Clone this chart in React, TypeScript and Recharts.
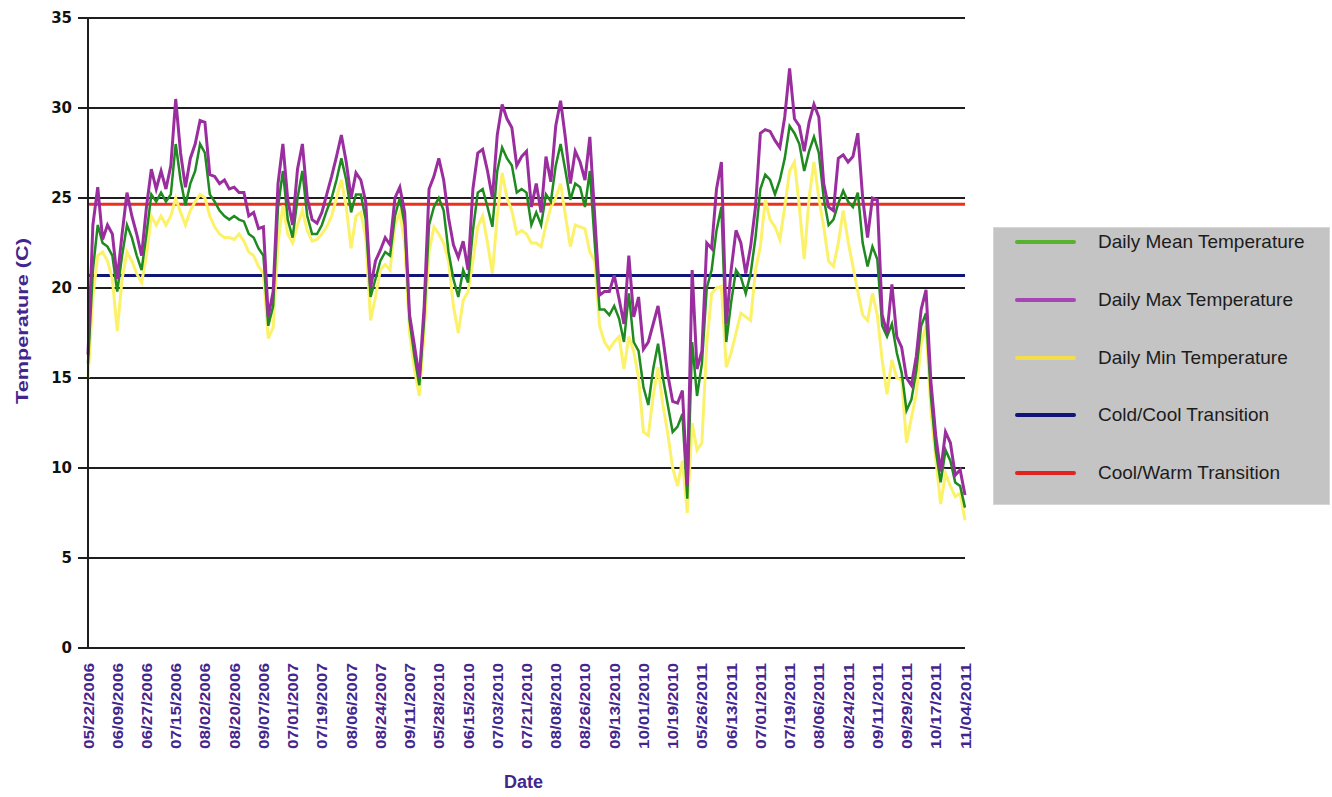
import { CartesianGrid, Line, LineChart, XAxis, YAxis } from "recharts";

// one sample every third day, six samples between date labels
const STEP = 6;

const DATE_TICKS = [
  "05/22/2006", "06/09/2006", "06/27/2006", "07/15/2006", "08/02/2006", "08/20/2006", "09/07/2006",
  "07/01/2007", "07/19/2007", "08/06/2007", "08/24/2007", "09/11/2007",
  "05/28/2010", "06/15/2010", "07/03/2010", "07/21/2010", "08/08/2010", "08/26/2010", "09/13/2010", "10/01/2010", "10/19/2010",
  "05/26/2011", "06/13/2011", "07/01/2011", "07/19/2011", "08/06/2011", "08/24/2011", "09/11/2011", "09/29/2011", "10/17/2011", "11/04/2011"
];

const DAILY_MAX = [
  16.3, 23.5, 25.6, 22.7, 23.5, 23.0,
  20.5, 23.0, 25.3, 24.0, 23.0, 21.8,
  24.5, 26.6, 25.5, 26.5, 25.5, 26.8,
  30.5, 27.5, 25.6, 27.2, 28.0, 29.3,
  29.2, 26.3, 26.2, 25.8, 26.0, 25.5,
  25.6, 25.3, 25.3, 24.0, 24.2, 23.3,
  23.4, 18.4, 19.8, 25.8, 28.0, 24.9,
  23.5, 26.6, 28.0, 25.0, 23.8, 23.6,
  24.2, 25.2, 26.2, 27.3, 28.5, 27.0,
  25.0, 26.4, 26.0, 24.8, 20.0, 21.5,
  22.1, 22.8, 22.4, 25.0, 25.6, 24.2,
  18.5, 16.8, 15.0, 19.0, 25.5, 26.2,
  27.2, 26.0, 23.9, 22.4, 21.7, 22.6,
  21.0, 25.5, 27.5, 27.7, 26.5, 25.0,
  28.5, 30.2, 29.4, 28.9, 26.8, 27.3,
  27.6, 24.5, 25.8, 24.2, 27.3, 25.9,
  29.0, 30.4, 28.3, 25.8, 27.6, 27.0,
  26.0, 28.4, 24.0, 19.6, 19.8, 19.8,
  20.7, 19.4, 18.0, 21.8, 18.4, 19.5,
  16.6, 17.0, 18.0, 19.0, 17.2, 15.2,
  13.7, 13.6, 14.3, 9.0, 21.0, 15.5,
  16.5, 22.5, 22.2, 25.5, 27.0, 18.0,
  21.0, 23.2, 22.5, 20.8, 22.3, 24.5,
  28.6, 28.8, 28.7, 28.2, 27.8, 29.5,
  32.2, 29.4, 29.0, 27.6, 29.2, 30.2,
  29.5, 25.8, 24.5, 24.3, 27.2, 27.4,
  27.0, 27.3, 28.6, 25.0, 22.8, 25.0,
  24.9, 18.5, 17.5, 20.2, 17.3, 16.7,
  15.0, 14.6, 16.2, 18.8, 19.9, 14.8,
  11.8, 9.8, 12.0, 11.4, 9.6, 9.9,
  8.5
];

const DAILY_MEAN = [
  15.8, 21.0, 23.5, 22.5, 22.3, 21.8,
  19.8, 21.8, 23.5, 22.8, 21.8, 21.0,
  23.0, 25.2, 24.8, 25.3, 24.8, 25.2,
  28.0, 26.0, 24.6, 25.8, 26.5, 28.0,
  27.5, 25.2, 24.8, 24.3, 24.0, 23.8,
  24.0, 23.8, 23.7, 23.0, 22.8, 22.2,
  21.8, 17.9, 19.0, 24.5, 26.5, 23.8,
  22.8, 25.0, 26.5, 24.0, 23.0, 23.0,
  23.5, 24.3, 25.0, 26.0, 27.2, 26.0,
  24.2, 25.2, 25.2, 23.8, 19.5, 20.5,
  21.5, 22.0, 21.8, 24.0, 25.0, 23.5,
  18.2, 16.2, 14.6, 18.3, 23.5, 24.5,
  25.0, 24.3, 22.0, 20.5, 19.5, 21.0,
  20.3, 23.2, 25.3, 25.5, 24.5, 23.4,
  26.5, 27.8, 27.2, 26.8, 25.3, 25.5,
  25.3, 23.5, 24.2, 23.5, 25.2, 24.8,
  26.8, 28.0, 26.5, 24.9, 25.8, 25.6,
  24.5, 26.5, 22.5, 18.8, 18.8, 18.5,
  19.0, 18.3, 17.0, 19.7, 17.0, 16.5,
  14.5, 13.5, 15.5, 16.9, 15.0, 13.5,
  12.0, 12.3, 13.0, 8.3, 17.0, 14.0,
  15.8, 20.0, 21.0, 23.2, 24.5, 17.0,
  19.2, 21.0, 20.6, 19.7, 20.8, 22.8,
  25.5, 26.3, 26.0, 25.2, 26.0, 27.2,
  29.0, 28.6, 28.0, 26.5, 27.6, 28.4,
  27.5, 25.0, 23.5, 23.8, 24.7, 25.4,
  24.8, 24.5, 25.3, 22.5, 21.2, 22.3,
  21.6, 17.9, 17.3, 18.0, 16.4, 15.3,
  13.2, 13.8, 15.4, 17.9, 18.6, 14.0,
  11.0, 9.2, 11.0, 10.4, 9.2, 9.0,
  7.8
];

const DAILY_MIN = [
  15.0, 19.5, 21.8, 22.0, 21.5, 20.5,
  17.6, 20.5, 22.0, 21.5, 20.8, 20.3,
  21.8, 24.0, 23.5, 24.0, 23.5, 24.0,
  25.0, 24.2, 23.5, 24.3, 24.8, 25.2,
  25.0, 24.0, 23.4, 23.0, 22.8, 22.8,
  22.7, 23.0, 22.6, 22.0, 21.8, 21.2,
  20.8, 17.2, 17.8, 22.5, 24.6, 23.0,
  22.5, 23.5, 24.3, 23.2, 22.6, 22.7,
  23.0, 23.4, 24.0, 25.0, 26.0, 24.5,
  22.2, 24.0, 24.2, 22.8, 18.2, 19.5,
  21.0, 21.3, 21.0, 23.5, 24.2, 22.5,
  17.5, 15.5, 14.0, 17.5, 22.0, 23.4,
  23.0, 22.5, 21.5, 19.0, 17.5, 19.3,
  19.8, 21.5, 23.4, 24.0, 22.5, 20.8,
  24.0, 26.4, 25.0, 24.3, 23.0, 23.2,
  23.0, 22.5, 22.5, 22.3, 23.5, 24.5,
  25.0, 25.8, 24.0, 22.3, 23.5, 23.4,
  23.3, 22.0, 21.5, 17.9, 17.0, 16.6,
  17.0, 17.3, 15.5, 17.3, 16.5, 15.0,
  12.0, 11.8, 14.0, 15.6, 13.5, 11.9,
  10.0, 9.0, 10.4, 7.5, 12.5, 11.0,
  11.4, 16.9, 19.7, 20.0, 20.1, 15.6,
  16.4, 17.5, 18.6, 18.4, 18.2, 21.0,
  22.3, 24.9, 23.8, 23.4, 22.7, 24.5,
  26.5, 27.0, 24.5, 21.6, 25.0, 27.0,
  25.0, 23.4, 21.5, 21.2, 22.5, 24.3,
  22.6, 21.2, 19.8, 18.5, 18.2, 19.7,
  18.5, 16.0, 14.1, 16.0, 15.0, 14.9,
  11.4, 12.8, 14.1, 16.9, 17.9, 13.2,
  10.5, 8.0, 9.7, 9.0, 8.4, 8.6,
  7.1
];

// transition thresholds, drawn under the temperature traces
const COLD_COOL = 20.7;
const COOL_WARM = 24.65;
const Y_TICKS = [0, 5, 10, 15, 20, 25, 30, 35];

const LEGEND_ITEMS = [
  { name: "Daily Mean Temperature", color: "#58b12f" },
  { name: "Daily Max Temperature", color: "#a646b5" },
  { name: "Daily Min Temperature", color: "#f4dd4a" },
  { name: "Cold/Cool Transition", color: "#10157a" },
  { name: "Cool/Warm Transition", color: "#e3241e" }
];

const data = DAILY_MAX.map((max, i) => ({
  idx: i,
  max,
  mean: DAILY_MEAN[i],
  min: DAILY_MIN[i],
  coldCool: COLD_COOL,
  coolWarm: COOL_WARM
}));

const X_TICKS = DATE_TICKS.map((_, i) => i * STEP);
const PURPLE_TEXT = "#43258e";

function DateTick({ x, y, payload }: any) {
  const label = DATE_TICKS[Math.round(payload.value / STEP)];
  return (
    <text
      x={x}
      y={y}
      transform={`rotate(-90, ${x}, ${y})`}
      textAnchor="end"
      dominantBaseline="central"
      fill={PURPLE_TEXT}
      fontSize={15}
      fontWeight="bold"
      fontFamily="'Liberation Sans', Arial, sans-serif"
      textLength={86}
      lengthAdjust="spacingAndGlyphs"
    >
      {label}
    </text>
  );
}

function TempTitle({ viewBox }: any) {
  const cx = viewBox.x - 6;
  const cy = viewBox.y + viewBox.height / 2 - 12;
  return (
    <text
      x={cx}
      y={cy}
      transform={`rotate(-90, ${cx}, ${cy})`}
      textAnchor="middle"
      dominantBaseline="central"
      fill={PURPLE_TEXT}
      fontSize={17}
      fontWeight="bold"
      fontFamily="'Liberation Sans', Arial, sans-serif"
      textLength={166}
      lengthAdjust="spacingAndGlyphs"
    >
      Temperature (C)
    </text>
  );
}

function DateTitle({ viewBox }: any) {
  return (
    <text
      x={viewBox.x + viewBox.width / 2 - 3}
      y={viewBox.y + 140}
      textAnchor="middle"
      fill={PURPLE_TEXT}
      fontSize={18}
      fontWeight="bold"
      fontFamily="'Liberation Sans', Arial, sans-serif"
    >
      Date
    </text>
  );
}

function ChartLegend() {
  return (
    <div
      style={{
        position: "absolute",
        left: 993,
        top: 227,
        width: 337,
        height: 278,
        background: "#c4c4c4",
        border: "1px solid #d6d6d6",
        boxSizing: "border-box"
      }}
    >
      {LEGEND_ITEMS.map((item, i) => (
        <div
          key={item.name}
          style={{
            position: "absolute",
            left: 0,
            top: 14 + i * 57.8 - 12,
            height: 24,
            display: "flex",
            alignItems: "center"
          }}
        >
          <div style={{ marginLeft: 21, width: 61, height: 4, background: item.color, borderRadius: 2 }} />
          <span
            style={{
              marginLeft: 22,
              fontFamily: "'Liberation Sans', Arial, sans-serif",
              fontSize: 19,
              color: "#1c1c1c",
              whiteSpace: "nowrap"
            }}
          >
            {item.name}
          </span>
        </div>
      ))}
    </div>
  );
}

export default function App() {
  return (
    <div style={{ position: "absolute", left: 0, top: 0, width: 1332, height: 797, background: "#fff" }}>
      <LineChart
        width={1332}
        height={797}
        data={data}
        margin={{ top: 18, right: 367, bottom: 49, left: 28 }}
      >
        <CartesianGrid vertical={false} stroke="#1e1e1e" strokeWidth={2} />
        <XAxis
          type="number"
          dataKey="idx"
          domain={[0, DAILY_MAX.length - 1]}
          ticks={X_TICKS}
          interval={0}
          height={100}
          tickLine={false}
          tickSize={0}
          tickMargin={15}
          axisLine={{ stroke: "#1e1e1e", strokeWidth: 2 }}
          tick={<DateTick />}
          label={<DateTitle />}
        />
        <YAxis
          domain={[0, 35]}
          ticks={Y_TICKS}
          interval={0}
          width={60}
          tickSize={10}
          tickMargin={6}
          axisLine={{ stroke: "#1e1e1e", strokeWidth: 2 }}
          tickLine={{ stroke: "#1e1e1e", strokeWidth: 2 }}
          tick={{ fill: "#111", fontSize: 15, fontWeight: "bold", fontFamily: "'DejaVu Sans', sans-serif" }}
          label={<TempTitle />}
        />
        <Line
          type="linear"
          dataKey="coldCool"
          stroke="#10157a"
          strokeWidth={3}
          dot={false}
          activeDot={false}
          isAnimationActive={false}
        />
        <Line
          type="linear"
          dataKey="coolWarm"
          stroke="#e8321e"
          strokeWidth={3}
          dot={false}
          activeDot={false}
          isAnimationActive={false}
        />
        <Line
          type="linear"
          dataKey="min"
          stroke="#fbf26a"
          strokeWidth={3}
          dot={false}
          isAnimationActive={false}
        />
        <Line
          type="linear"
          dataKey="mean"
          stroke="#1f8a1f"
          strokeWidth={2.5}
          dot={false}
          isAnimationActive={false}
        />
        <Line
          type="linear"
          dataKey="max"
          stroke="#9a2e9e"
          strokeWidth={3}
          dot={false}
          isAnimationActive={false}
        />
      </LineChart>
      <ChartLegend />
    </div>
  );
}
